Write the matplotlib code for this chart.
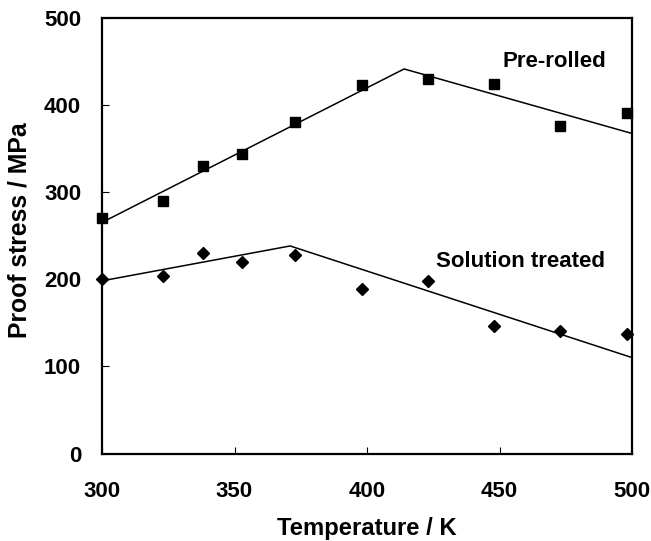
import matplotlib
matplotlib.use("Agg")
import matplotlib.pyplot as plt

# Measured proof stress (MPa) versus test temperature (K)
pre_rolled_T = [300, 323, 338, 353, 373, 398, 423, 448, 473, 498]
pre_rolled_sigma = [270, 290, 330, 344, 380, 423, 430, 424, 376, 391]

solution_T = [300, 323, 338, 353, 373, 398, 423, 448, 473, 498]
solution_sigma = [200, 203, 230, 220, 228, 189, 198, 146, 140, 137]

# Piecewise-linear trend lines (knot points)
pre_fit_T = [300, 414, 500]
pre_fit_sigma = [265, 441, 367]
sol_fit_T = [300, 371, 500]
sol_fit_sigma = [198, 238, 110]

x_ticks = [300, 350, 400, 450, 500]
y_ticks = [0, 100, 200, 300, 400, 500]

plt.rcParams["font.family"] = ["Liberation Sans", "DejaVu Sans"]
plt.rcParams["font.weight"] = "bold"

W, H = 651, 541
fig = plt.figure(figsize=(W / 100, H / 100), dpi=100)
ax = fig.add_axes([102 / W, 1 - 453.5 / H, 530 / W, 436 / H])

ax.plot(pre_fit_T, pre_fit_sigma, color="black", lw=1.1, clip_on=False, zorder=2)
ax.plot(sol_fit_T, sol_fit_sigma, color="black", lw=1.1, clip_on=False, zorder=2)
ax.plot(pre_rolled_T, pre_rolled_sigma, ls="none", marker="s", ms=7.8,
        color="black", clip_on=False, zorder=3)
ax.plot(solution_T, solution_sigma, ls="none", marker="D", ms=5.8,
        color="black", clip_on=False, zorder=3)

ax.text(451, 449, "Pre-rolled", fontsize=16, fontweight="bold", va="center", ha="left")
ax.text(426, 220, "Solution treated", fontsize=16, fontweight="bold", va="center", ha="left")

ax.set_xlim(300, 500)
ax.set_ylim(0, 500)
ax.set_xticks(x_ticks)
ax.set_yticks(y_ticks)
ax.tick_params(direction="in", length=5, width=0.8, labelsize=16)
ax.tick_params(axis="x", pad=20)
ax.tick_params(axis="y", pad=15)
for lab in ax.get_xticklabels() + ax.get_yticklabels():
    lab.set_fontweight("bold")
for s in ax.spines.values():
    s.set_linewidth(1.6)

ax.set_xlabel("Temperature / K", fontsize=17.2, fontweight="bold")
ax.set_ylabel("Proof stress / MPa", fontsize=17.8, fontweight="bold")
ax.xaxis.set_label_coords(367 / W, 1 - 528 / H, transform=fig.transFigure)
ax.yaxis.set_label_coords(20 / W, 1 - 230.5 / H, transform=fig.transFigure)
ax.xaxis.label.set_va("center")
ax.yaxis.label.set_va("center")

fig.savefig("out.png", dpi=100)
